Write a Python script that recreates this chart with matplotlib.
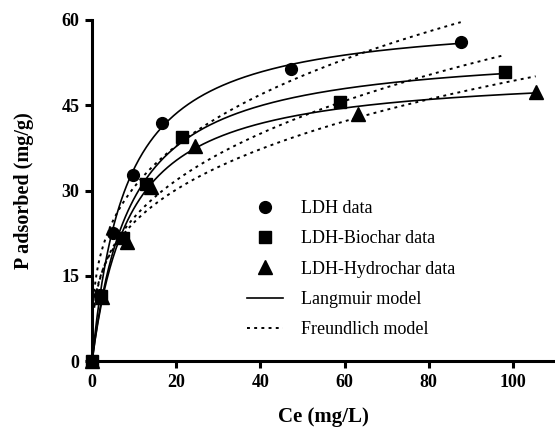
import numpy as np
import matplotlib
matplotlib.use('Agg')
import matplotlib.pyplot as plt

# measured isotherm points (Ce in mg/L, P adsorbed in mg/g)
ldh_x = [0, 1.8, 5.0, 9.7, 16.6, 47.3, 87.6]
ldh_y = [0, 11.6, 22.6, 32.7, 41.8, 51.4, 56.1]
bio_x = [0, 2.0, 7.4, 12.7, 21.3, 58.9, 98.2]
bio_y = [0, 11.5, 21.6, 31.2, 39.4, 45.6, 50.9]
hyd_x = [0, 2.3, 8.2, 13.9, 24.5, 63.3, 105.4]
hyd_y = [0, 11.3, 21.0, 30.6, 37.8, 43.4, 47.4]

# fitted model parameters
lang_qm = [61.0, 55.4, 51.2]
lang_k = [0.125, 0.107, 0.111]
freu_kf = [15.1, 11.8, 12.1]
freu_n = [1 / 0.307, 1 / 0.331, 1 / 0.305]

labels = ['LDH data', 'LDH-Biochar data', 'LDH-Hydrochar data']
markers = ['o', 's', '^']

plt.rcParams['font.family'] = 'Liberation Serif'

fig = plt.figure(figsize=(5.55, 4.34), dpi=100)
ax = fig.add_axes([0.166, 0.168, 0.834, 0.786])

datasets = [(ldh_x, ldh_y), (bio_x, bio_y), (hyd_x, hyd_y)]
handles = []
for i, (x, y) in enumerate(datasets):
    h, = ax.plot(x, y, linestyle='none', marker=markers[i], color='black',
                 markersize=8.5 if markers[i] != '^' else 9.5, clip_on=False, zorder=5)
    handles.append(h)
    c = np.linspace(0, max(x), 300)
    ql = lang_qm[i] * lang_k[i] * c / (1 + lang_k[i] * c)
    lang, = ax.plot(c, ql, color='black', lw=1.2)
    c2 = np.linspace(0.5, max(x), 300)
    qf = freu_kf[i] * c2 ** (1 / freu_n[i])
    freu, = ax.plot(c2, qf, color='black', lw=1.4, linestyle=(0, (1.5, 2.2)))

ax.set_xlim(0, 110)
ax.set_ylim(0, 60)
ax.set_xticks([0, 20, 40, 60, 80, 100])
ax.set_yticks([0, 15, 30, 45, 60])

for s in ['top', 'right']:
    ax.spines[s].set_visible(False)
for s in ['left', 'bottom']:
    ax.spines[s].set_linewidth(2.2)
ax.tick_params(width=2.2, length=5, labelsize=13, pad=4)
for t in ax.get_xticklabels() + ax.get_yticklabels():
    t.set_fontweight('bold')

ax.set_xlabel('Ce (mg/L)', fontsize=15, fontweight='bold', labelpad=12)
ax.set_ylabel('P adsorbed (mg/g)', fontsize=14.5, fontweight='bold', labelpad=20)

leg = ax.legend(handles + [lang, freu], labels + ['Langmuir model', 'Freundlich model'],
                loc='upper left', bbox_to_anchor=(0.3, 0.52), frameon=False,
                fontsize=13, labelspacing=0.74, handlelength=2.0, handletextpad=1.0)

fig.savefig('out.png', dpi=100)
